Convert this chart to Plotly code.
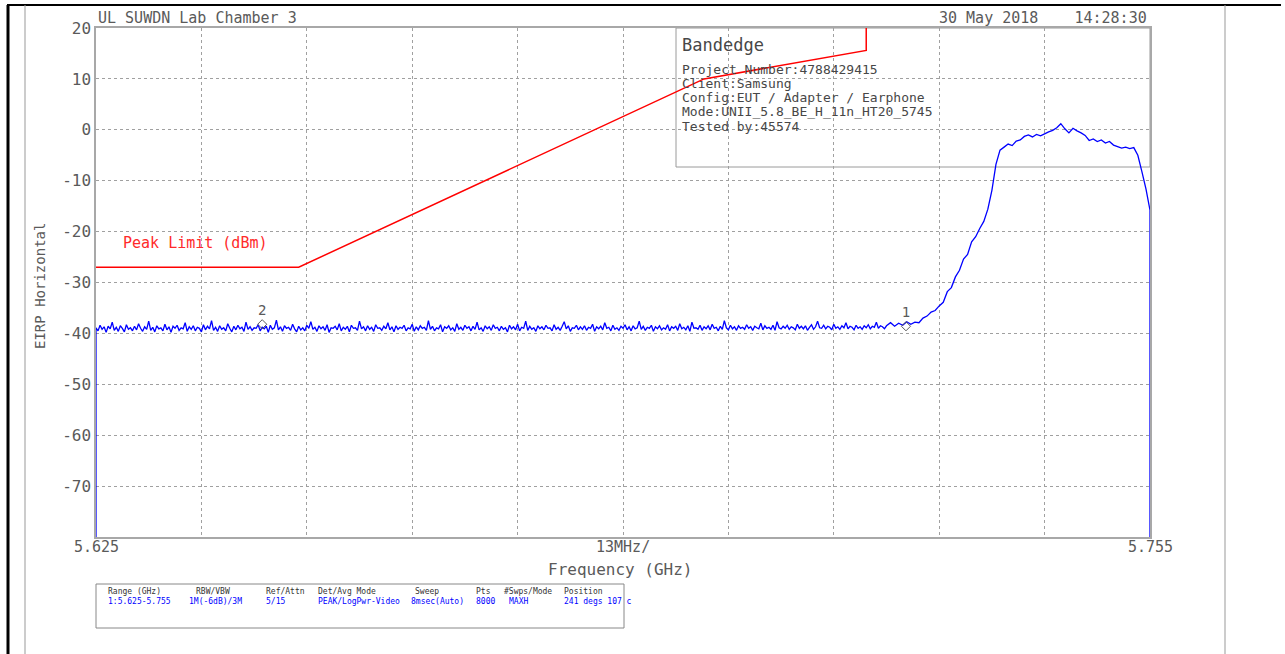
import numpy as np
import plotly.graph_objects as go

# ---------------- data ----------------
F_START, F_STOP = 5.625, 5.755          # GHz sweep span
FLOOR_STEP = 0.00025                    # noise floor read every 0.25 MHz from 5.625 GHz
BAND_START, BAND_STEP = 5.7225, 0.0005  # emission skirt / in-band read every 0.5 MHz
EDGE_LEVEL = -80.0                      # trace falls to the bottom at both span edges

# EIRP (dBm), noise floor 5.625 .. 5.72225 GHz
FLOOR_DBM = [
    -38.9,-39.5,-38.4,-39.2,-38.7,-39.8,-38.6,-39.1,-37.8,-39.4,-38.8,-39.6,-38.5,-39.0,-39.7,-38.3,-39.2,-38.9,-39.5,-38.6,
    -39.3,-38.1,-39.0,-39.6,-38.7,-39.2,-37.6,-39.4,-38.8,-39.7,-38.5,-39.1,-38.9,-39.5,-38.2,-39.3,-38.7,-39.8,-38.6,-39.0,
    -38.4,-39.4,-38.9,-39.1,-37.9,-39.6,-38.7,-39.2,-38.5,-39.5,-38.8,-39.0,-39.7,-38.3,-39.3,-38.6,-39.1,-37.5,-39.4,-38.8,
    -39.6,-38.5,-39.2,-38.9,-39.5,-38.1,-39.0,-39.7,-38.6,-39.3,-38.4,-39.1,-38.8,-39.6,-37.8,-39.2,-38.7,-39.4,-38.9,-39.0,
    -38.3,-39.5,-38.8,-39.1,-38.6,-39.8,-38.4,-39.2,-38.9,-37.4,-39.3,-38.7,-39.6,-38.5,-39.0,-38.8,-39.4,-38.2,-39.1,-39.7,
    -38.6,-39.3,-38.9,-39.5,-38.4,-39.0,-37.7,-39.2,-38.8,-39.6,-38.5,-39.1,-38.7,-39.4,-38.3,-39.8,-38.9,-39.0,-38.6,-39.3,
    -38.1,-39.5,-38.8,-39.2,-38.6,-39.7,-38.4,-39.0,-38.9,-39.4,-37.6,-39.1,-38.7,-39.5,-38.5,-39.2,-38.8,-39.6,-38.3,-39.0,
    -38.9,-39.4,-38.6,-39.1,-37.9,-39.3,-38.7,-39.7,-38.5,-39.2,-38.8,-39.0,-38.4,-39.5,-38.9,-39.1,-38.2,-39.6,-38.7,-39.3,
    -38.5,-39.0,-38.8,-39.4,-37.5,-39.2,-38.6,-39.5,-38.9,-39.1,-38.3,-39.7,-38.7,-39.0,-38.5,-39.3,-38.9,-39.6,-38.1,-39.2,
    -38.8,-39.4,-38.4,-39.0,-38.7,-39.5,-38.6,-39.2,-37.8,-39.3,-38.9,-39.6,-38.5,-39.1,-38.7,-39.4,-38.3,-39.0,-38.8,-39.5,
    -38.6,-39.2,-38.9,-39.7,-38.4,-39.1,-38.7,-39.3,-38.2,-39.5,-38.8,-39.0,-37.6,-39.4,-38.6,-39.2,-38.9,-39.6,-38.5,-39.1,
    -38.7,-39.3,-38.4,-39.0,-38.9,-39.5,-38.3,-39.2,-38.8,-39.4,-38.6,-37.7,-39.1,-38.5,-39.6,-38.9,-39.0,-38.4,-39.3,-38.7,
    -39.2,-38.5,-39.4,-38.8,-39.0,-38.2,-39.6,-38.7,-39.1,-38.6,-39.3,-37.9,-39.0,-38.8,-39.5,-38.4,-39.2,-38.9,-39.4,-38.6,
    -39.0,-38.3,-39.3,-38.7,-39.5,-38.5,-39.1,-38.9,-37.6,-39.2,-38.6,-39.4,-38.8,-39.0,-38.4,-39.6,-38.7,-39.1,-38.5,-39.3,
    -38.9,-39.2,-38.3,-39.5,-38.7,-39.0,-38.6,-39.4,-38.1,-39.1,-38.8,-39.3,-38.5,-39.6,-37.8,-39.0,-38.9,-39.2,-38.4,-39.4,
    -38.7,-39.1,-38.5,-39.3,-38.2,-39.0,-38.8,-39.5,-38.6,-39.2,-37.5,-38.9,-39.3,-38.4,-39.1,-38.7,-39.4,-38.5,-39.0,-38.8,
    -39.2,-38.3,-39.0,-38.7,-39.4,-38.6,-38.9,-39.1,-38.0,-39.3,-38.5,-39.0,-38.8,-39.2,-38.4,-39.4,-37.7,-38.9,-39.1,-38.6,
    -39.0,-38.4,-39.2,-38.7,-38.9,-39.3,-38.2,-39.0,-38.6,-39.1,-38.5,-39.4,-38.8,-38.3,-39.2,-38.7,-37.6,-38.9,-39.0,-38.4,
    -39.1,-38.6,-38.8,-39.3,-38.2,-39.0,-38.7,-39.2,-38.5,-38.9,-37.9,-39.1,-38.6,-38.8,-39.3,-38.4,-39.0,-38.7,-39.2,-38.5,
    -38.9,-38.3,-39.1,-38.6,-38.8,-37.8,-39.0,-38.5,-38.7,-39.1,
]

# EIRP (dBm), 5.7225 .. 5.755 GHz: rising skirt, channel top, falling edge
BAND_DBM = [
    -38.5,-37.9,-38.6,-38.0,-38.4,-37.7,-38.2,-37.8,-37.9,-37.0,-36.6,-35.8,-35.5,-34.6,-33.9,-31.8,-31.0,-28.9,-27.6,-25.4,
    -24.5,-22.0,-21.0,-19.4,-18.0,-15.6,-11.9,-6.8,-4.0,-3.4,-2.8,-3.1,-2.2,-2.0,-1.3,-1.0,-1.4,-0.9,-1.2,-0.8,
    -0.4,-0.1,0.4,1.2,0.2,-0.6,0.3,-0.2,-0.6,-1.1,-2.1,-1.8,-2.3,-2.0,-2.6,-2.3,-3.0,-3.3,-3.6,-3.4,
    -3.7,-3.5,-5.0,-8.2,-11.6,-15.8,
]

# Peak limit line (dBm)
LIMIT_GHZ = [5.625, 5.650, 5.700, 5.720, 5.720]
LIMIT_DBM = [-27.0, -27.0, 10.0, 15.6, 27.0]

# markers
MARKER_LABELS = ["2", "1"]
MARKER_GHZ = [5.6455, 5.7249]
MARKER_DBM = [-38.2, -38.6]

# axes
Y_TICKS = [20, 10, 0, -10, -20, -30, -40, -50, -60, -70]
Y_TICKTEXT = ["20", "10", "0", "-10", "-20", "-30", "-40", "-50", "-60", "-70"]
X_TICKS = [5.625, 5.638, 5.651, 5.664, 5.677, 5.690, 5.703, 5.716, 5.729, 5.742, 5.755]
X_LABEL_AT = [5.625, 5.690, 5.755]
X_LABEL_TEXT = ["5.625", "13MHz/", "5.755"]

TITLE_LEFT = "UL SUWDN Lab Chamber 3"
TITLE_RIGHT = "30 May 2018    14:28:30"
INFO_HEAD = "Bandedge"
INFO_LINES = ["Project Number:4788429415", "Client:Samsung", "Config:EUT / Adapter / Earphone",
              "Mode:UNII_5.8_BE_H_11n_HT20_5745", "Tested by:45574"]
TABLE_HEAD = ["Range (GHz)", "RBW/VBW", "Ref/Attn", "Det/Avg Mode", "Sweep", "Pts", "#Swps/Mode", "Position"]
TABLE_VALS = ["1:5.625-5.755", "1M(-6dB)/3M", "5/15", "PEAK/LogPwr-Video", "8msec(Auto)", "8000", "MAXH", "241 degs 107 c"]

# ---------------- figure ----------------
W, H = 1285, 654
L, R, T, B = 96, 1150, 28, 537
def px(x):
    return (x - L) / (R - L)
def py(y):
    return (B - y) / (B - T)

floor_x = F_START + FLOOR_STEP * np.arange(len(FLOOR_DBM))
band_x = BAND_START + BAND_STEP * np.arange(len(BAND_DBM))
trace_x = [F_START] + list(floor_x) + list(band_x) + [F_STOP]
trace_y = [EDGE_LEVEL] + FLOOR_DBM + BAND_DBM + [EDGE_LEVEL]

FONT = "DejaVu Sans Mono"
GRAY = "#5a5a5a"

fig = go.Figure()
fig.add_trace(go.Scatter(x=LIMIT_GHZ, y=LIMIT_DBM, mode="lines",
                         line=dict(color="#ff0000", width=1.5), showlegend=False, hoverinfo="skip"))
fig.add_trace(go.Scatter(x=trace_x, y=trace_y, mode="lines",
                         line=dict(color="#0000ff", width=1.3, simplify=False), showlegend=False))
fig.add_trace(go.Scatter(x=MARKER_GHZ, y=MARKER_DBM, mode="markers+text", text=MARKER_LABELS,
                         textposition="top center", textfont=dict(family=FONT, size=14, color=GRAY),
                         marker=dict(symbol="diamond-open", size=7, color=GRAY, line=dict(width=1)),
                         showlegend=False, cliponaxis=False))

ann = []
def text(x, y, s, size, color="#474747", xa="left", angle=0):
    ann.append(dict(xref="paper", yref="paper", x=px(x), y=py(y), text=s, showarrow=False,
                    xanchor=xa, yanchor="middle", textangle=angle,
                    font=dict(family=FONT, size=size, color=color)))

# x tick labels placed on the x axis scale, just below the plot
for f, s in zip(X_LABEL_AT, X_LABEL_TEXT):
    ann.append(dict(xref="x", yref="paper", x=f, y=py(547), text=s, showarrow=False,
                    xanchor="center", yanchor="middle", font=dict(family=FONT, size=15, color=GRAY)))

text(96, 18, TITLE_LEFT, 15, color=GRAY)
text(1149, 18, TITLE_RIGHT, 15, color=GRAY, xa="right")
text(620, 569, "Frequency (GHz)", 16, color=GRAY, xa="center")
text(40, 286, "EIRP Horizontal", 14, color=GRAY, xa="center", angle=-90)
text(121, 243, "Peak Limit (dBm)", 15, color="#ff2a2a")
text(680, 45, INFO_HEAD, 17)
for i, s in enumerate(INFO_LINES):
    text(680, 69 + i * 14.3, s, 13)
TABLE_X_HEAD = [106, 194, 264, 316, 413, 474, 502, 562]
TABLE_X_VAL = [106, 187, 264, 316, 409, 474, 507, 562]
for s, x in zip(TABLE_HEAD, TABLE_X_HEAD):
    text(x, 591, s, 8, color="#333333")
for s, x in zip(TABLE_VALS, TABLE_X_VAL):
    text(x, 601, s, 8, color="#0000ff")

shapes = [
    # info box (above grid, below traces)
    dict(type="rect", xref="paper", yref="paper", x0=px(676), x1=px(1150), y0=py(167), y1=py(28),
         fillcolor="white", line=dict(color="#9a9a9a", width=1), layer="between"),
    # settings table box
    dict(type="rect", xref="paper", yref="paper", x0=px(96), x1=px(624), y0=py(628), y1=py(584),
         line=dict(color="#888888", width=1)),
    # outer page frame
    dict(type="line", xref="paper", yref="paper", x0=px(8), x1=px(8), y0=py(5), y1=py(654),
         line=dict(color="black", width=3)),
    dict(type="line", xref="paper", yref="paper", x0=px(7), x1=px(1281), y0=py(5), y1=py(5),
         line=dict(color="black", width=2)),
    dict(type="line", xref="paper", yref="paper", x0=px(25), x1=px(25), y0=py(5), y1=py(654),
         line=dict(color="#999999", width=1)),
    dict(type="line", xref="paper", yref="paper", x0=px(1225), x1=px(1225), y0=py(5), y1=py(654),
         line=dict(color="#999999", width=1)),
]

fig.update_layout(
    width=W, height=H,
    margin=dict(l=L, r=W - R, t=T, b=H - B, pad=0),
    paper_bgcolor="white", plot_bgcolor="white",
    annotations=ann, shapes=shapes,
    xaxis=dict(range=[F_START, F_STOP], tickvals=X_TICKS, showticklabels=False,
               showgrid=True, gridcolor="#a0a0a0", griddash="dot", gridwidth=1,
               showline=True, mirror=True, linecolor="#a8a8a8", linewidth=1.5,
               zeroline=False, ticks=""),
    yaxis=dict(range=[-80, 20], tickvals=Y_TICKS, ticktext=Y_TICKTEXT,
               showgrid=True, gridcolor="#a0a0a0", griddash="dot", gridwidth=1,
               showline=True, mirror=True, linecolor="#a8a8a8", linewidth=1.5,
               zeroline=False, ticks="", tickfont=dict(family=FONT, size=16, color=GRAY)),
)

fig.write_html("out.html", config={"displayModeBar": False},
               post_script="document.body.style.margin='0';document.body.style.overflow='hidden';")
